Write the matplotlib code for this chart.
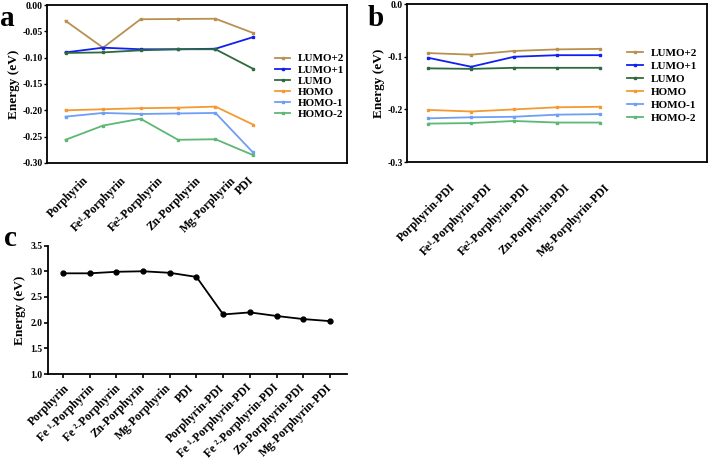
import matplotlib
matplotlib.use("Agg")
import matplotlib.pyplot as plt
from matplotlib.transforms import ScaledTranslation

plt.rcParams['font.family'] = ['Liberation Serif', 'DejaVu Serif']
plt.rcParams['font.weight'] = 'bold'
plt.rcParams['axes.labelweight'] = 'bold'

# panel a data
names_a = ['Porphyrin', 'Fe¹-Porphyrin', 'Fe²-Porphyrin', 'Zn-Porphyrin', 'Mg-Porphyrin', 'PDI']
lumo2_a = [-0.030, -0.081, -0.027, -0.0265, -0.026, -0.053]
lumo1_a = [-0.090, -0.081, -0.084, -0.084, -0.083, -0.061]
lumo_a = [-0.091, -0.090, -0.086, -0.084, -0.084, -0.121]
homo_a = [-0.200, -0.198, -0.196, -0.195, -0.193, -0.227]
homo1_a = [-0.212, -0.205, -0.207, -0.206, -0.205, -0.280]
homo2_a = [-0.256, -0.229, -0.216, -0.256, -0.255, -0.285]

# panel b data
names_b = ['Porphyrin-PDI', 'Fe¹-Porphyrin-PDI', 'Fe²-Porphyrin-PDI', 'Zn-Porphyrin-PDI', 'Mg-Porphyrin-PDI']
lumo2_b = [-0.093, -0.096, -0.089, -0.086, -0.085]
lumo1_b = [-0.102, -0.119, -0.100, -0.097, -0.097]
lumo_b = [-0.122, -0.123, -0.121, -0.121, -0.121]
homo_b = [-0.201, -0.204, -0.200, -0.196, -0.195]
homo1_b = [-0.217, -0.215, -0.214, -0.210, -0.209]
homo2_b = [-0.227, -0.226, -0.222, -0.225, -0.225]

# panel c data
names_c = ['Porphyrin', 'Fe ¹-Porphyrin', 'Fe ²-Porphyrin', 'Zn-Porphyrin', 'Mg-Porphyrin', 'PDI',
           'Porphyrin-PDI', 'Fe ¹-Porphyrin-PDI', 'Fe ²-Porphyrin-PDI', 'Zn-Porphyrin-PDI', 'Mg-Porphyrin-PDI']
gap_c = [2.96, 2.96, 2.99, 3.00, 2.97, 2.89, 2.16, 2.20, 2.13, 2.07, 2.03]

labels = ['LUMO+2', 'LUMO+1', 'LUMO', 'HOMO', 'HOMO-1', 'HOMO-2']
colors = ['#b8904f', '#1020f0', '#2f6a3e', '#f39a33', '#6f9ef5', '#5cb874']

# label shifts in pixels (right) from the tick point, GraphPad puts them oddly
shift_a = [21, 22, 21, 21, 19, -1]
shift_b = [25, 19, 14, 11, 9]
shift_c = [5, 3, 2, 0, 0, -4, 0, 0, 0, 0, 0]

fig = plt.figure(figsize=(7.09, 4.59), dpi=100)
ax_a = fig.add_axes([0.066, 0.645, 0.423, 0.344])
ax_b = fig.add_axes([0.574, 0.647, 0.423, 0.344])
ax_c = fig.add_axes([0.068, 0.185, 0.422, 0.280])


def set_names(ax, names, shifts, down):
    # call after tick_params, it resets the label transforms
    ax.set_xticks(list(range(len(names))))
    ax.set_xticklabels(names, rotation=45, ha='right', va='center', rotation_mode='anchor',
                       fontsize=8.5, fontweight='bold')
    for lab, dx in zip(ax.get_xticklabels(), shifts):
        off = ScaledTranslation(dx / 100, -down / 100, fig.dpi_scale_trans)
        lab.set_transform(lab.get_transform() + off)


def orbital_panel(ax, names, series, ylim, yticks, fmt, leg_x, spacing, shifts, down):
    x = range(len(names))
    for s, lab, col in zip(series, labels, colors):
        ax.plot(x, s, color=col, lw=1.3, marker='s', ms=2, label=lab)
    ax.set_xlim(-0.5, len(names) + 1.5)
    ax.set_ylim(*ylim)
    ax.set_yticks(yticks)
    ax.set_yticklabels([fmt % v for v in yticks], fontsize=7, fontweight='bold')
    ax.tick_params(axis='x', length=0, pad=0)
    ax.tick_params(axis='y', length=2, width=1, pad=1)
    set_names(ax, names, shifts, down)
    for sp in ax.spines.values():
        sp.set_linewidth(1.3)
    ax.set_ylabel('Energy (eV)', fontsize=9.5, fontweight='bold', labelpad=2)
    ax.legend(loc='center left', bbox_to_anchor=(leg_x, 0.485), frameon=False,
              handlelength=1.4, handletextpad=0.7, labelspacing=spacing,
              borderpad=0, borderaxespad=0, prop={'weight': 'bold', 'size': 8})


orbital_panel(ax_a, names_a, [lumo2_a, lumo1_a, lumo_a, homo_a, homo1_a, homo2_a],
              (-0.30, 0.0), [0.0, -0.05, -0.10, -0.15, -0.20, -0.25, -0.30], '%.2f', 0.76, 0.12,
              shift_a, 16)
orbital_panel(ax_b, names_b, [lumo2_b, lumo1_b, lumo_b, homo_b, homo1_b, homo2_b],
              (-0.3, 0.0), [0.0, -0.1, -0.2, -0.3], '%.1f', 0.735, 0.28,
              shift_b, 24)

xc = range(len(names_c))
ax_c.plot(xc, gap_c, color='black', lw=1.3, marker='o', ms=3.5)
ax_c.set_xlim(-0.55, 10.65)
ax_c.set_ylim(1.0, 3.5)
ax_c.set_yticks([1.0, 1.5, 2.0, 2.5, 3.0, 3.5])
ax_c.set_yticklabels(['%.1f' % v for v in [1.0, 1.5, 2.0, 2.5, 3.0, 3.5]], fontsize=7, fontweight='bold')
ax_c.spines['top'].set_visible(False)
ax_c.spines['right'].set_visible(False)
for sp in ['left', 'bottom']:
    ax_c.spines[sp].set_linewidth(1.3)
ax_c.tick_params(length=3, width=1.2, pad=1)
ax_c.tick_params(axis='x', pad=0)
set_names(ax_c, names_c, shift_c, 8)
ax_c.set_ylabel('Energy (eV)', fontsize=9.5, fontweight='bold', labelpad=3)

fig.text(0.0, 0.99, 'a', fontsize=21, fontweight='bold', va='top')
fig.text(0.518, 0.99, 'b', fontsize=21, fontweight='bold', va='top')
fig.text(0.005, 0.51, 'c', fontsize=21, fontweight='bold', va='top')

fig.savefig('out.png', dpi=100)
